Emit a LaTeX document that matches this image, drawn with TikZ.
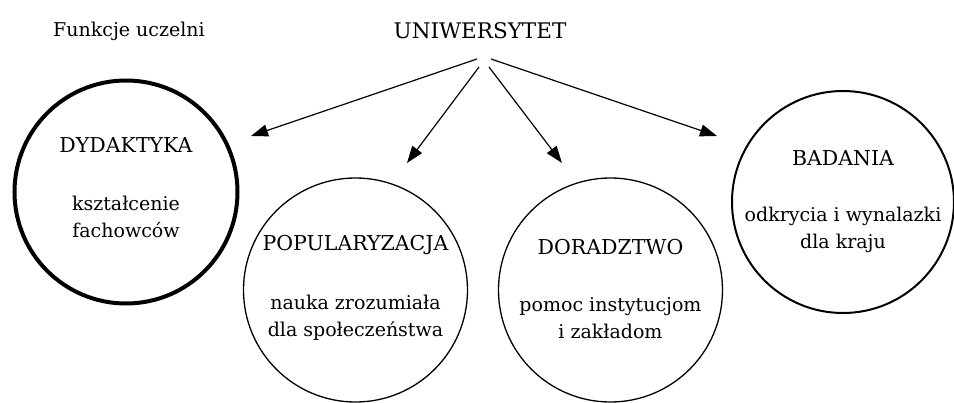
\documentclass[tikz,border=0pt]{standalone}
\usepackage{fontspec}
\setmainfont{DejaVu Serif}
\usetikzlibrary{arrows.meta}
\begin{document}
\begin{tikzpicture}[x=1pt,y=-1pt,
  caps/.style={inner sep=0pt,font=\fontsize{20.5}{27}\selectfont},
  body/.style={inner sep=0pt,align=center,font=\fontsize{19}{27}\selectfont},
  conn/.style={line width=1.2pt,-{Triangle[length=17pt,width=12pt]}}]
\useasboundingbox (0,0) rectangle (954,402);
% headers
\node[caps,font=\fontsize{19}{22}\selectfont] (fun) at (129,31) {Funkcje uczelni};
\node[caps,font=\fontsize{21.5}{22}\selectfont] (uni) at (480,31) {UNIWERSYTET};
% circles
\draw[line width=4pt] (126,192) circle[radius=111.5];
\draw[line width=1.3pt] (355.5,290) circle[radius=112];
\draw[line width=1.3pt] (610.5,290) circle[radius=112];
\draw[line width=2pt] (843,202) circle[radius=111];
% texts
\node[caps] (dyd) at (126,145) {DYDAKTYKA};
\node[body] (dydb) at (126,217) {kształcenie\\fachowców};
\node[caps] (pop) at (355.5,245) {POPULARYZACJA};
\node[body] (popb) at (355.5,318) {nauka zrozumiała\\dla społeczeństwa};
\node[caps] (dor) at (610.5,247) {DORADZTWO};
\node[body] (dorb) at (610.5,318) {pomoc instytucjom\\i zakładom};
\node[caps] (bad) at (843,158) {BADANIA};
\node[body] (badb) at (843,230) {odkrycia i wynalazki\\dla kraju};
% connectors
\coordinate (s1) at (477,59);
\coordinate (s2) at (479,67);
\coordinate (s3) at (489,67);
\coordinate (s4) at (491,59);
\coordinate (t1) at (251,136);
\coordinate (t2) at (407,163);
\coordinate (t3) at (562,163);
\coordinate (t4) at (717,136);
\draw[conn] (s1) -- (t1);
\draw[conn] (s2) -- (t2);
\draw[conn] (s3) -- (t3);
\draw[conn] (s4) -- (t4);
\end{tikzpicture}
\end{document}
